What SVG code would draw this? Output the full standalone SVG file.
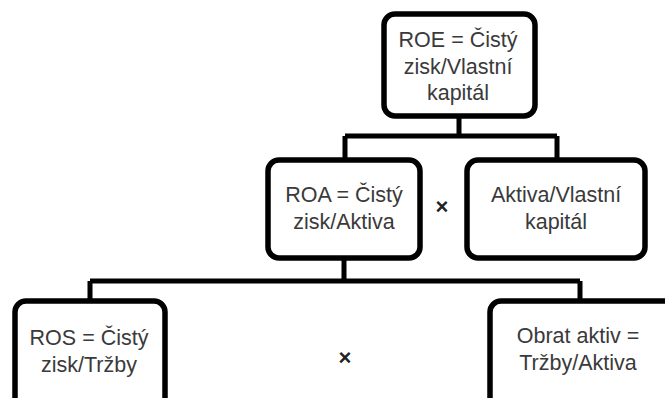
<svg xmlns="http://www.w3.org/2000/svg" width="665" height="398" viewBox="0 0 665 398">
<style>
.box{fill:#fff;stroke:#000;stroke-width:5.5}
.lbl{font-family:"Liberation Sans",Arial,sans-serif;font-size:21.5px;fill:#3a3a3a;text-anchor:middle}
.op{font-family:"Liberation Sans",Arial,sans-serif;font-size:22px;font-weight:bold;fill:#222;text-anchor:middle}
.con{fill:none;stroke:#000;stroke-width:5}
</style>
<rect width="665" height="398" fill="#fff"/>
<g id="connectors">
<path class="con" d="M459 116 V136 M345 136 H557 M345 136 V160 M557 136 V160"/>
<path class="con" d="M344 258 V281 M90 281 H580 M90 281 V301 M580 281 V301"/>
</g>
<g id="roe">
<rect class="box" x="384" y="14" width="151" height="102" rx="11"/>
<text class="lbl" x="458" y="47">ROE = Čistý</text>
<text class="lbl" x="458" y="74">zisk/Vlastní</text>
<text class="lbl" x="458" y="100">kapitál</text>
</g>
<g id="roa">
<rect class="box" x="268" y="160" width="152" height="98" rx="11"/>
<text class="lbl" x="344" y="202">ROA = Čistý</text>
<text class="lbl" x="344" y="229">zisk/Aktiva</text>
</g>
<g id="mult1"><text class="op" x="442" y="214">×</text></g>
<g id="aktiva">
<rect class="box" x="467" y="160" width="178" height="98" rx="11"/>
<text class="lbl" x="556" y="202">Aktiva/Vlastní</text>
<text class="lbl" x="556" y="229">kapitál</text>
</g>
<g id="ros">
<rect class="box" x="15" y="301" width="150" height="115" rx="11"/>
<text class="lbl" x="89" y="345">ROS = Čistý</text>
<text class="lbl" x="89" y="372">zisk/Tržby</text>
</g>
<g id="mult2"><text class="op" x="345" y="365">×</text></g>
<g id="obrat">
<rect class="box" x="490" y="301" width="200" height="115" rx="11"/>
<text class="lbl" x="578" y="343">Obrat aktiv =</text>
<text class="lbl" x="578" y="370">Tržby/Aktiva</text>
</g>
</svg>
